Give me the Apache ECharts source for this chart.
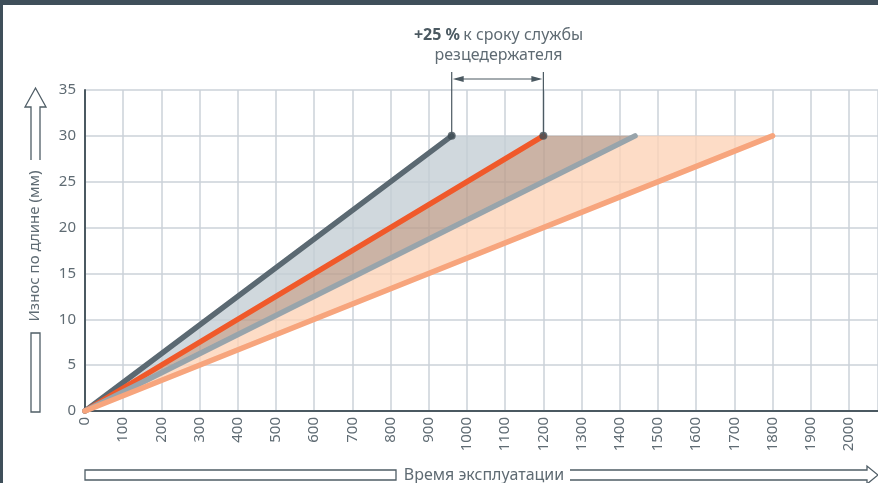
<!DOCTYPE html>
<html>
<head>
<meta charset="utf-8">
<script src="https://cdn.jsdelivr.net/npm/echarts@6/dist/echarts.min.js"></script>
<style>
  html, body { margin: 0; padding: 0; background: #ffffff; }
  #chart { width: 878px; height: 483px; }
</style>
</head>
<body>
<div id="chart"></div>
<script>
// Wear of the cutting edge (mm) against operating time
const wearLimit = 30;                       // mm, end of service life
const lifeHours = [960, 1200, 1440, 1800];  // hours until the wear limit is reached
const lineColors = ['#5b6972', '#f0592a', '#98a4ab', '#f7a57d'];
// shaded wedges between pairs of lines: [from line, to line]
const bands = [[0, 1], [1, 2], [2, 3]];
const bandColors = ['rgba(196,206,213,0.8)', 'rgba(190,160,142,0.8)', 'rgba(252,211,184,0.8)'];
// the two service lives that the bracket compares
const compared = [960, 1200];
const yTicks = { min: 0, max: 35, step: 5 };
const xTicks = { min: 0, max: 2076, step: 100, lastLabel: 2000 };

const ink = '#4b5961';
const labelColor = '#5f6b73';
const fontFamily = '"Noto Sans", "Open Sans", sans-serif';

const chart = echarts.init(document.getElementById('chart'), null, { renderer: 'canvas' });

const lineSeries = lifeHours.map((h, i) => ({
  type: 'line',
  data: [[0, 0], [h, wearLimit]],
  showSymbol: false,
  silent: true,
  z: 5 + i,
  lineStyle: { color: lineColors[i], width: 5.5, cap: 'round' }
}));

const bandSeries = {
  type: 'custom',
  silent: true,
  z: 2,
  data: bands.map((b, i) => [lifeHours[b[0]], lifeHours[b[1]], i]),
  renderItem: function (params, api) {
    const p0 = api.coord([0, 0]);
    const p1 = api.coord([api.value(0), wearLimit]);
    const p2 = api.coord([api.value(1), wearLimit]);
    return {
      type: 'polygon',
      shape: { points: [p0, p1, p2] },
      style: { fill: bandColors[api.value(2)] }
    };
  }
};

const endDots = {
  type: 'scatter',
  silent: true,
  z: 20,
  data: compared.map(h => [h, wearLimit]),
  symbolSize: 8,
  itemStyle: { color: '#3f4c54' }
};

chart.setOption({
  animation: false,
  grid: { left: 85, top: 90, right: 0, height: 321, outerBoundsMode: 'none' },
  xAxis: {
    type: 'value',
    min: xTicks.min, max: xTicks.max, interval: xTicks.step,
    axisLine: { show: true, lineStyle: { color: ink, width: 2 } },
    axisTick: { show: false },
    splitLine: { show: true, lineStyle: { color: '#cbd2d8', width: 1.5 } },
    axisLabel: {
      rotate: 90, margin: 6, fontSize: 15, color: labelColor, fontFamily: fontFamily,
      showMaxLabel: false,
      formatter: v => (v > xTicks.lastLabel ? '' : String(v))
    }
  },
  yAxis: {
    type: 'value',
    min: yTicks.min, max: yTicks.max, interval: yTicks.step,
    axisLine: { show: true, lineStyle: { color: ink, width: 2 } },
    axisTick: { show: false },
    splitLine: { show: true, lineStyle: { color: '#cbd2d8', width: 1.5 } },
    axisLabel: { margin: 9, fontSize: 15, color: labelColor, fontFamily: fontFamily }
  },
  series: [bandSeries].concat(lineSeries, [endDots])
});

// Bracket over the two compared service lives, plus frame and axis arrows
const pa = chart.convertToPixel({ gridIndex: 0 }, [compared[0], wearLimit]);
const pb = chart.convertToPixel({ gridIndex: 0 }, [compared[1], wearLimit]);
const bracketTop = 72, arrowY = 79;
const outline = { fill: null, stroke: '#4f5d66', lineWidth: 1.3 };

chart.setOption({
  graphic: [
    // frame: top bar and left edge
    { type: 'rect', shape: { x: 0, y: 0, width: 878, height: 5 }, style: { fill: '#3f4f5a' }, z: 100 },
    { type: 'rect', shape: { x: 0, y: 0, width: 3, height: 483 }, style: { fill: '#3f4f5a' }, z: 100 },

    // bracket
    { type: 'line', shape: { x1: pa[0], y1: bracketTop, x2: pa[0], y2: pa[1] }, style: { stroke: ink, lineWidth: 1.2 }, z: 50 },
    { type: 'line', shape: { x1: pb[0], y1: bracketTop, x2: pb[0], y2: pb[1] }, style: { stroke: ink, lineWidth: 1.2 }, z: 50 },
    { type: 'line', shape: { x1: pa[0] + 4, y1: arrowY, x2: pb[0] - 4, y2: arrowY }, style: { stroke: ink, lineWidth: 1.2 }, z: 50 },
    { type: 'polygon', shape: { points: [[pa[0] + 1, arrowY], [pa[0] + 12, arrowY - 3], [pa[0] + 12, arrowY + 3]] }, style: { fill: ink }, z: 50 },
    { type: 'polygon', shape: { points: [[pb[0] - 1, arrowY], [pb[0] - 12, arrowY - 3], [pb[0] - 12, arrowY + 3]] }, style: { fill: ink }, z: 50 },
    {
      type: 'text', x: (pa[0] + pb[0]) / 2 + 1, y: 45, z: 50,
      style: {
        text: '{b|+25 %} {n|к сроку службы}\n{n|резцедержателя}',
        align: 'center', verticalAlign: 'middle', lineHeight: 20,
        rich: {
          b: { fontSize: 16, fontWeight: 'bold', fill: ink, fontFamily: fontFamily, lineHeight: 20 },
          n: { fontSize: 16, fill: labelColor, fontFamily: fontFamily, lineHeight: 20 }
        }
      }
    },

    // y-axis title with outlined arrow
    { type: 'polyline', shape: { points: [[31, 160], [31, 107], [25, 107], [35.5, 88], [46, 107], [40, 107], [40, 160]] }, style: outline, z: 50 },
    { type: 'rect', shape: { x: 31, y: 333, width: 9, height: 79 }, style: outline, z: 50 },
    {
      type: 'text', x: 35, y: 246, rotation: Math.PI / 2, z: 50,
      style: { text: 'Износ по длине (мм)', align: 'center', verticalAlign: 'middle', fontSize: 15, fill: labelColor, fontFamily: fontFamily }
    },

    // x-axis title with outlined arrow
    { type: 'rect', shape: { x: 85, y: 470, width: 311, height: 10 }, style: outline, z: 50 },
    { type: 'polyline', shape: { points: [[570, 470], [867, 470], [867, 466], [878, 475], [867, 484], [867, 480], [570, 480]] }, style: outline, z: 50 },
    {
      type: 'text', x: 484, y: 475, z: 50,
      style: { text: 'Время эксплуатации', align: 'center', verticalAlign: 'middle', fontSize: 16, fill: labelColor, fontFamily: fontFamily }
    }
  ]
});
</script>
</body>
</html>
